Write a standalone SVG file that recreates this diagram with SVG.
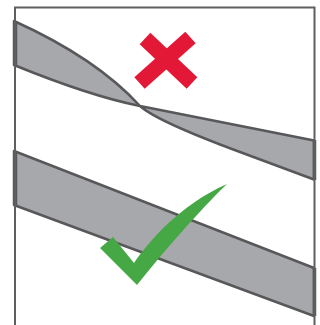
<svg xmlns="http://www.w3.org/2000/svg" width="320" height="325" viewBox="0 0 320 325">
  <style>
    .band { fill: #a7a8ac; stroke: #58585a; stroke-width: 2.5; stroke-linejoin: round; }
    .edge { stroke: #58585a; stroke-width: 3.5; fill: none; }
    .frame { fill: none; stroke: #5f5f61; stroke-width: 2; }
    .bad { stroke: #e31837; stroke-width: 15.5; fill: none; }
    .good { fill: #45a845; }
  </style>
  <rect width="320" height="325" fill="#ffffff"/>
  <g id="wrong-bands">
    <path class="band" d="M14,21 Q96,58 140,106 Q157,121.3 240,152 L314,179.5 L314,140.5 L140,106 Q90,96 14,65 Z"/>
    <line class="edge" x1="15.5" y1="21" x2="15.5" y2="65"/>
    <line class="edge" x1="314.5" y1="140" x2="314.5" y2="180"/>
  </g>
  <g id="right-band">
    <path class="band" d="M14,151 L314,268 L314,316 L14,205 Z"/>
    <line class="edge" x1="15.5" y1="151" x2="15.5" y2="205"/>
    <line class="edge" x1="314.5" y1="268" x2="314.5" y2="316"/>
  </g>
  <g id="frame">
    <path class="frame" d="M15,325 L15,7.5 L314.5,7.5 L314.5,325"/>
  </g>
  <g id="cross">
    <line class="bad" x1="145" y1="38.5" x2="192" y2="83"/>
    <line class="bad" x1="190.5" y1="37.5" x2="139.5" y2="83"/>
  </g>
  <g id="check">
    <path class="good" d="M100,248 L113,237 L134,263 C150,240 180,205 227,184 C200,210 165,250 137,285 Z"/>
  </g>
</svg>
